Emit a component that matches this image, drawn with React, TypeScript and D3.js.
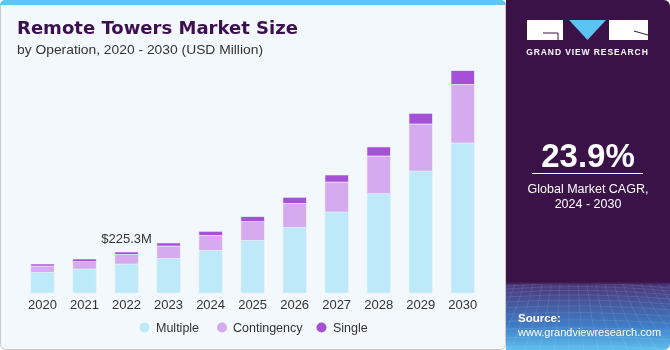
import React, { useEffect, useRef } from 'react';
import * as d3 from 'd3';

const years = ['2020', '2021', '2022', '2023', '2024', '2025', '2026', '2027', '2028', '2029', '2030'];
const multiple = [113.7, 131.9, 159.4, 190.7, 234.6, 289.6, 361.0, 445.0, 545.7, 670.4, 824.3];
const contingency = [34.6, 40.1, 53.3, 67.6, 82.4, 102.2, 131.9, 164.9, 207.2, 258.3, 322.6];
const single = [11.0, 14.8, 12.6, 16.5, 22.0, 27.5, 33.0, 38.5, 49.5, 58.8, 74.7];
const seriesNames = ['Multiple', 'Contingency', 'Single'];
const seriesColors = ['#bde9f9', '#d5aaee', '#a650d8'];
const annotatedYear = '2022';
const annotationText = '$225.3M';

const App = () => {
    const svgRef = useRef(null);

    useEffect(() => {
        const width = 670;
        const height = 350;
        const svg = d3.select(svgRef.current);
        svg.selectAll('*').remove();
        svg.attr('width', width).attr('height', height);

        const font = '"Liberation Sans", Arial, sans-serif';
        const defs = svg.append('defs');

        // left panel
        svg.append('rect')
            .attr('x', 0.5).attr('y', 0.5)
            .attr('width', 505).attr('height', 349)
            .attr('rx', 5)
            .attr('fill', '#f3f8fc')
            .attr('stroke', '#c9cacc');
        const clip = defs.append('clipPath').attr('id', 'topclip');
        clip.append('rect').attr('x', 0).attr('y', 0).attr('width', 506).attr('height', 5);
        svg.append('rect')
            .attr('clip-path', 'url(#topclip)')
            .attr('x', 0).attr('y', 0)
            .attr('width', 506).attr('height', 20)
            .attr('rx', 5)
            .attr('fill', '#5ec6ef');

        // right panel
        const grad = defs.append('linearGradient')
            .attr('id', 'sidegrad')
            .attr('x1', 0).attr('y1', 0).attr('x2', 0).attr('y2', 1);
        grad.append('stop').attr('offset', '0%').attr('stop-color', '#3a1248');
        grad.append('stop').attr('offset', '80.5%').attr('stop-color', '#3a1248');
        grad.append('stop').attr('offset', '81.5%').attr('stop-color', '#4a3a7c');
        grad.append('stop').attr('offset', '93%').attr('stop-color', '#3f7cc6');
        grad.append('stop').attr('offset', '100%').attr('stop-color', '#5cc0ee');
        svg.append('rect')
            .attr('x', 506).attr('y', 0)
            .attr('width', 164).attr('height', 350)
            .attr('rx', 6)
            .attr('fill', 'url(#sidegrad)');
        svg.append('rect')
            .attr('x', 506).attr('y', 0)
            .attr('width', 20).attr('height', 350)
            .attr('fill', 'url(#sidegrad)');

        // faint grid on the bottom of the side panel
        const sideClip = defs.append('clipPath').attr('id', 'sideclip');
        sideClip.append('rect').attr('x', 506).attr('y', 284).attr('width', 164).attr('height', 66);
        const gridG = svg.append('g').attr('clip-path', 'url(#sideclip)')
            .attr('stroke', '#ffffff').attr('stroke-opacity', 0.14).attr('fill', 'none').attr('stroke-width', 0.7);
        d3.range(0, 14).forEach(i => {
            const y = 286 + i * i * 0.35 + i * 2.6;
            gridG.append('path').attr('d', `M506,${y} Q588,${y - 6 + i * 0.3} 670,${y + 2}`);
        });
        d3.range(-8, 22).forEach(i => {
            const x0 = 506 + i * 9;
            gridG.append('path').attr('d', `M${x0},284 Q${x0 + (i - 7) * 2},320 ${x0 + (i - 7) * 6},352`);
        });

        // logo
        const logo = svg.append('g');
        logo.append('rect').attr('x', 527).attr('y', 20).attr('width', 36).attr('height', 20).attr('fill', '#ffffff');
        logo.append('path').attr('d', 'M569,20 L606,20 L587.5,40 Z').attr('fill', '#5cc4f2');
        logo.append('rect').attr('x', 609).attr('y', 20).attr('width', 39).attr('height', 20).attr('fill', '#ffffff');
        logo.append('path').attr('d', 'M543,33 L558,33 L558,40').attr('stroke', '#3a1248').attr('stroke-width', 1).attr('fill', 'none');
        logo.append('path').attr('d', 'M634,31 L648,35').attr('stroke', '#3a1248').attr('stroke-width', 1).attr('fill', 'none');
        logo.append('text')
            .attr('x', 587.5).attr('y', 55)
            .attr('text-anchor', 'middle')
            .attr('font-family', font).attr('font-weight', 'bold')
            .attr('font-size', 8.5).attr('letter-spacing', 0.9)
            .attr('fill', '#ffffff')
            .text('GRAND VIEW RESEARCH');

        // CAGR
        svg.append('text')
            .attr('x', 588).attr('y', 167)
            .attr('text-anchor', 'middle')
            .attr('font-family', font).attr('font-weight', 'bold')
            .attr('font-size', 33).attr('fill', '#ffffff')
            .text('23.9%');
        svg.append('line')
            .attr('x1', 532).attr('x2', 643).attr('y1', 173.5).attr('y2', 173.5)
            .attr('stroke', '#ffffff').attr('stroke-width', 1);
        svg.append('text')
            .attr('x', 588).attr('y', 193)
            .attr('text-anchor', 'middle')
            .attr('font-family', font).attr('font-size', 12.5).attr('fill', '#ffffff')
            .text('Global Market CAGR,');
        svg.append('text')
            .attr('x', 588).attr('y', 208)
            .attr('text-anchor', 'middle')
            .attr('font-family', font).attr('font-size', 12.5).attr('fill', '#ffffff')
            .text('2024 - 2030');

        // source
        svg.append('text')
            .attr('x', 518).attr('y', 322)
            .attr('font-family', font).attr('font-weight', 'bold')
            .attr('font-size', 11.5).attr('fill', '#ffffff')
            .text('Source:');
        svg.append('text')
            .attr('x', 518).attr('y', 336)
            .attr('font-family', font)
            .attr('font-size', 11).attr('fill', '#ffffff')
            .text('www.grandviewresearch.com');

        // titles
        svg.append('text')
            .attr('x', 17).attr('y', 34)
            .attr('font-family', '"DejaVu Sans", sans-serif').attr('font-weight', 'bold')
            .attr('font-size', 17.5).attr('fill', '#3c1050')
            .attr('textLength', 281).attr('lengthAdjust', 'spacingAndGlyphs')
            .text('Remote Towers Market Size');
        svg.append('text')
            .attr('x', 17).attr('y', 54)
            .attr('font-family', font)
            .attr('font-size', 13).attr('fill', '#333333')
            .attr('textLength', 246).attr('lengthAdjust', 'spacingAndGlyphs')
            .text('by Operation, 2020 - 2030 (USD Million)');

        // bars
        const x = d3.scaleBand()
            .domain(years)
            .range([21.5, 483.7])
            .paddingInner(0.445)
            .paddingOuter(0.2225);
        const y = d3.scaleLinear()
            .domain([0, 1300])
            .range([293, 293 - 1300 * 41 / 225.3]);

        const rows = years.map((yr, i) => ({ year: yr, Multiple: multiple[i], Contingency: contingency[i], Single: single[i] }));
        const stack = d3.stack().keys(seriesNames);
        const stacked = stack(rows);

        stacked.forEach((layer, li) => {
            svg.append('g')
                .selectAll('rect')
                .data(layer)
                .enter()
                .append('rect')
                .attr('x', d => x(d.data.year))
                .attr('y', d => y(d[1]))
                .attr('width', x.bandwidth())
                .attr('height', d => y(d[0]) - y(d[1]))
                .attr('fill', seriesColors[li])
                .attr('stroke', '#e6f2fb')
                .attr('stroke-width', 0.6);
        });

        // annotation
        const annIdx = years.indexOf(annotatedYear);
        const annTotal = multiple[annIdx] + contingency[annIdx] + single[annIdx];
        svg.append('text')
            .attr('x', x(annotatedYear) + x.bandwidth() / 2)
            .attr('y', y(annTotal) - 9)
            .attr('text-anchor', 'middle')
            .attr('font-family', font).attr('font-size', 13)
            .attr('fill', '#333333')
            .text(annotationText);

        // x axis labels
        const xAxis = d3.axisBottom(x).tickSize(0).tickPadding(7);
        const axisG = svg.append('g')
            .attr('transform', 'translate(0,293)')
            .call(xAxis);
        axisG.select('.domain').remove();
        axisG.selectAll('text')
            .attr('font-family', font).attr('font-size', 13)
            .attr('fill', '#333333');

        // legend
        const legendItems = [
            { name: 'Multiple', cx: 144.5, tx: 156 },
            { name: 'Contingency', cx: 222, tx: 233 },
            { name: 'Single', cx: 321.5, tx: 333 }
        ];
        const legend = svg.append('g');
        legendItems.forEach((item, i) => {
            legend.append('circle')
                .attr('cx', item.cx).attr('cy', 327.5).attr('r', 5)
                .attr('fill', seriesColors[i]);
            legend.append('text')
                .attr('x', item.tx).attr('y', 332)
                .attr('font-family', font).attr('font-size', 12.5)
                .attr('fill', '#333333')
                .text(item.name);
        });
    }, []);

    return (
        <div style={{ position: 'fixed', left: 0, top: 0 }}>
            <svg ref={svgRef} style={{ display: 'block' }}></svg>
        </div>
    );
};

export default App;
